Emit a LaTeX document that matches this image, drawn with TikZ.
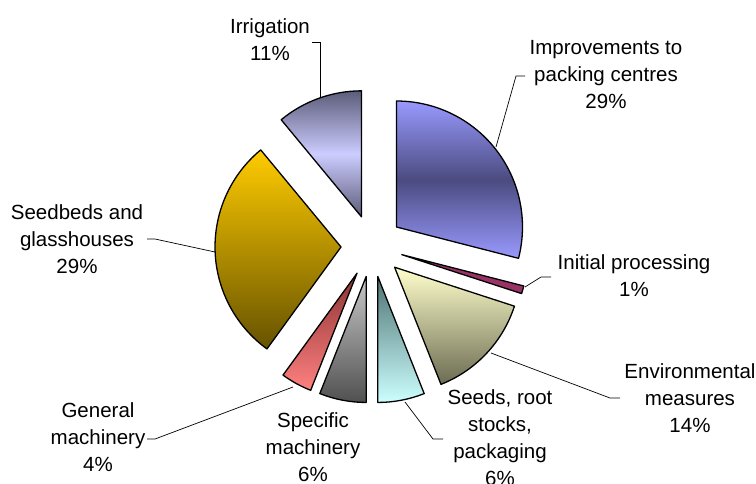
\documentclass[tikz,border=0pt]{standalone}
\usepackage{fontspec}
\setmainfont{Liberation Sans}
\definecolor{impL}{HTML}{9999FF}
\definecolor{impD}{HTML}{4B4B80}
\definecolor{iniC}{HTML}{993366}
\definecolor{envT}{HTML}{FFFFCC}
\definecolor{envB}{HTML}{6B6B52}
\definecolor{sedT}{HTML}{4F7373}
\definecolor{sedB}{HTML}{CCFFFF}
\definecolor{spcT}{HTML}{C8C8C8}
\definecolor{spcB}{HTML}{505050}
\definecolor{genT}{HTML}{8C3333}
\definecolor{genB}{HTML}{FF8080}
\definecolor{bedT}{HTML}{FFCC00}
\definecolor{bedB}{HTML}{665200}
\definecolor{irrD}{HTML}{5C5C7A}
\definecolor{irrL}{HTML}{CCCCFF}
\newcommand\pieslice[3]{%
  \path[sector,shift={({(#1+#2)/2}:31)},#3] (372,246) -- ++(#1:126)
    arc[start angle=#1, end angle=#2, radius=126] -- cycle;}
\begin{document}
\begin{tikzpicture}[x=1pt,y=-1pt,
  sector/.style={draw=black, line width=1.3pt, line join=round},
  leader/.style={draw=black, line width=0.7pt},
  lbl/.style={align=center, inner sep=0pt, font=\fontsize{20.5}{27}\selectfont}]
\useasboundingbox (0,0) rectangle (756,483);
\pieslice{-90}{14.4}{top color=impL, bottom color=impL, middle color=impD}
\pieslice{14.4}{18}{fill=iniC}
\pieslice{18}{68.4}{top color=envT, bottom color=envB}
\pieslice{68.4}{90}{top color=sedT, bottom color=sedB}
\pieslice{90}{111.6}{top color=spcT, bottom color=spcB}
\pieslice{111.6}{126}{top color=genT, bottom color=genB}
\pieslice{126}{230.4}{top color=bedT, bottom color=bedB}
\pieslice{230.4}{270}{top color=irrD, bottom color=irrD, middle color=irrL}

\node[lbl] (irr) at (270,39.5) {Irrigation\\11\%};
\node[lbl] (imp) at (606,75) {Improvements to\\packing centres\\29\%};
\node[lbl] (ini) at (634,275.5) {Initial processing\\1\%};
\node[lbl] (env) at (690,398) {Environmental\\measures\\14\%};
\node[lbl] (sds) at (500,438) {Seeds, root\\stocks,\\packaging\\6\%};
\node[lbl] (spc) at (313,447) {Specific\\machinery\\6\%};
\node[lbl] (gen) at (98,437.5) {General\\machinery\\4\%};
\node[lbl] (bed) at (77,239) {Seedbeds and\\glasshouses\\29\%};

\coordinate (irrS) at (312,42); \coordinate (irrK) at (320,42); \coordinate (irrE) at (320,97);
\coordinate (impS) at (525,76); \coordinate (impK) at (516,76); \coordinate (impE) at (496,147);
\coordinate (iniS) at (551,277); \coordinate (iniK) at (541,277); \coordinate (iniE) at (525,287);
\coordinate (envS) at (620,398); \coordinate (envK) at (610,398); \coordinate (envE) at (491,353);
\coordinate (sdsS) at (443,439); \coordinate (sdsK) at (433,439); \coordinate (sdsE) at (405,402);
\coordinate (genS) at (147,439); \coordinate (genK) at (155,439); \coordinate (genE) at (293,387);
\coordinate (bedS) at (147,239); \coordinate (bedK) at (155,239); \coordinate (bedE) at (215,252);
\draw[leader] (irrS) -- (irrK) -- (irrE);
\draw[leader] (impS) -- (impK) -- (impE);
\draw[leader] (iniS) -- (iniK) -- (iniE);
\draw[leader] (envS) -- (envK) -- (envE);
\draw[leader] (sdsS) -- (sdsK) -- (sdsE);
\draw[leader] (genS) -- (genK) -- (genE);
\draw[leader] (bedS) -- (bedK) -- (bedE);
\end{tikzpicture}
\end{document}
